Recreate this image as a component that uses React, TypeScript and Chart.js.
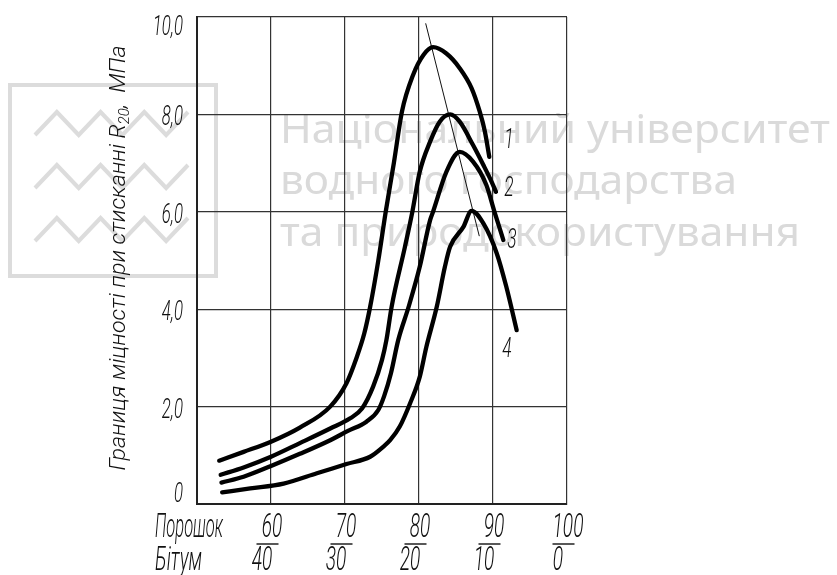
import React, { useEffect, useRef } from 'react';
import { Chart, registerables } from 'chart.js';

Chart.register(...registerables);

// ---- data ----
const curve1X = [53.0, 56.3, 60.0, 63.9, 68.0, 70.2, 71.6, 72.6, 73.4, 74.5, 75.5, 76.6, 77.7, 79.2, 80.6, 81.9, 83.7, 85.5, 87.1, 88.2, 88.9, 89.5];
const curve1Y = [0.89, 1.07, 1.28, 1.57, 2.0, 2.48, 3.02, 3.5, 4.05, 5.0, 6.0, 7.0, 8.06, 8.81, 9.22, 9.38, 9.25, 8.95, 8.54, 8.06, 7.65, 7.13];

const curve2X = [53.2, 56.3, 60.0, 63.9, 68.0, 70.7, 72.3, 73.8, 75.0, 75.6, 76.3, 78.1, 79.1, 80.1, 81.5, 82.8, 84.2, 85.5, 87.3, 88.7, 89.8, 90.4];
const curve2Y = [0.6, 0.75, 0.97, 1.25, 1.55, 1.76, 1.96, 2.41, 2.96, 3.37, 4.05, 5.28, 6.0, 6.82, 7.44, 7.85, 8.0, 7.85, 7.37, 6.96, 6.62, 6.41];

const curve3X = [53.3, 56.3, 60.0, 63.9, 68.0, 70.4, 72.9, 74.5, 75.3, 76.2, 77.2, 78.6, 80.1, 81.5, 81.9, 83.7, 85.5, 87.3, 89.1, 90.2, 91.4];
const curve3Y = [0.44, 0.56, 0.78, 1.03, 1.31, 1.5, 1.69, 1.93, 2.22, 2.68, 3.37, 4.05, 4.87, 5.83, 6.0, 6.82, 7.23, 7.03, 6.55, 6.0, 5.42];

const curve4X = [53.4, 57.2, 61.7, 66.2, 70.2, 73.4, 75.2, 76.1, 77.4, 78.8, 80.1, 81.0, 82.4, 83.5, 84.2, 86.0, 87.1, 88.7, 90.5, 91.8, 93.2];
const curve4Y = [0.24, 0.32, 0.42, 0.63, 0.82, 0.97, 1.18, 1.31, 1.59, 2.07, 2.61, 3.23, 4.05, 4.87, 5.28, 5.69, 6.02, 5.76, 5.15, 4.46, 3.57];

const guideX = [80.9, 88.15];
const guideY = [9.87, 5.5];

const curveNames = ['1', '2', '3', '4'];
const curveLabelX = [92.16, 92.16, 92.57, 91.89];
const curveLabelY = [7.52, 6.53, 5.46, 3.22];

const xTickValues = [60, 70, 80, 90, 100];
const xTickTop = ['60', '70', '80', '90', '100'];
const xTickBottom = ['40', '30', '20', '10', '0'];
const xRowLabels = ['Порошок', 'Бітум'];

const yTickValues = [0, 2, 4, 6, 8, 10];
const yTickLabels = ['0', '2,0', '4,0', '6,0', '8,0', '10,0'];

const yTitleMain = 'Границя міцності при стисканні R';
const yTitleSub = '20';
const yTitleTail = ',  МПа';

const watermarkLines = ['Національний університет', 'водного господарства', 'та природокористування'];

// ---- helpers ----
const FONT = 'Roboto';

function textW(ctx: CanvasRenderingContext2D, text: string, size: number, family = FONT, weight = '300', style = 'italic') {
  ctx.font = `${style} ${weight} ${size}px ${family}`;
  return ctx.measureText(text).width;
}

function drawText(
  ctx: CanvasRenderingContext2D,
  text: string,
  x: number,
  cy: number,
  size: number,
  align: 'left' | 'center' | 'right',
  scaleX: number,
  color = '#111',
) {
  ctx.save();
  ctx.font = `italic 300 ${size}px ${FONT}`;
  ctx.textBaseline = 'alphabetic';
  ctx.textAlign = 'left';
  ctx.fillStyle = color;
  const w = ctx.measureText(text).width * scaleX;
  const x0 = align === 'center' ? x - w / 2 : align === 'right' ? x - w : x;
  ctx.translate(x0, cy + size * 0.355);
  ctx.scale(scaleX, 1);
  ctx.fillText(text, 0, 0);
  ctx.restore();
}

const backgroundPlugin = {
  id: 'bgWatermark',
  beforeDraw(chart: any) {
    const ctx: CanvasRenderingContext2D = chart.ctx;
    ctx.save();
    ctx.fillStyle = '#ffffff';
    ctx.fillRect(0, 0, chart.width, chart.height);

    // logo
    ctx.strokeStyle = '#dcdcdc';
    ctx.lineWidth = 4;
    ctx.strokeRect(10, 85, 206, 191);
    const rows = [[112, 135], [165, 188], [218, 241]];
    ctx.lineJoin = 'miter';
    rows.forEach(([hi, lo]) => {
      ctx.beginPath();
      const n = 7;
      for (let i = 0; i <= n; i++) {
        const px = 35 + (i * (188 - 35)) / n;
        const py = i % 2 === 0 ? lo : hi;
        if (i === 0) ctx.moveTo(px, py);
        else ctx.lineTo(px, py);
      }
      ctx.stroke();
    });

    // watermark text
    ctx.fillStyle = '#dadada';
    ctx.textBaseline = 'alphabetic';
    const baselines = [143, 194, 246];
    const rights = [830, 737, 800];
    watermarkLines.forEach((line, i) => {
      ctx.font = `400 40px "Noto Sans"`;
      const w = ctx.measureText(line).width;
      const sx = (rights[i] - 280) / w;
      ctx.save();
      ctx.translate(280, baselines[i]);
      ctx.scale(sx, 1);
      ctx.fillText(line, 0, 0);
      ctx.restore();
    });
    ctx.restore();
  },
};

const labelsPlugin = {
  id: 'labels',
  afterDraw(chart: any) {
    const ctx: CanvasRenderingContext2D = chart.ctx;
    const xs = chart.scales.x;
    const ys = chart.scales.y;
    const area = chart.chartArea;

    // y tick labels
    yTickValues.forEach((v, i) => {
      let py = ys.getPixelForValue(v) + 1;
      py = Math.max(area.top + 8, Math.min(area.bottom - 12, py));
      drawText(ctx, yTickLabels[i], 183, py, 28, 'right', 0.6);
    });

    // x tick fractions
    xTickValues.forEach((v, i) => {
      const px = xs.getPixelForValue(v);
      drawText(ctx, xTickTop[i], px + 1, 525, 33, 'center', 0.58);
      ctx.save();
      ctx.strokeStyle = '#111';
      ctx.lineWidth = 1.4;
      ctx.beginPath();
      ctx.moveTo(px - 3.5 - 11, 544);
      ctx.lineTo(px - 3.5 + 11, 544);
      ctx.stroke();
      ctx.restore();
      drawText(ctx, xTickBottom[i], px - 9, 558.5, 33, 'center', 0.58);
    });

    // row labels
    const w0 = textW(ctx, xRowLabels[0], 33);
    drawText(ctx, xRowLabels[0], 155, 525, 33, 'left', 68 / w0);
    const w1 = textW(ctx, xRowLabels[1], 33);
    drawText(ctx, xRowLabels[1], 155, 558.5, 33, 'left', 47 / w1);

    // curve numbers
    curveNames.forEach((name, i) => {
      drawText(ctx, name, xs.getPixelForValue(curveLabelX[i]), ys.getPixelForValue(curveLabelY[i]), 28, 'center', 0.62);
    });

    // y axis title (rotated)
    ctx.save();
    const size = 22;
    const subSize = 14;
    const mainW = textW(ctx, yTitleMain, size);
    const subW = textW(ctx, yTitleSub, subSize);
    const tailW = textW(ctx, yTitleTail, size);
    const total = mainW + subW + tailW;
    const sx = 425 / total;
    ctx.translate(117, 258);
    ctx.rotate(-Math.PI / 2);
    ctx.scale(sx, 1);
    ctx.fillStyle = '#111';
    ctx.textBaseline = 'alphabetic';
    ctx.textAlign = 'left';
    const start = -total / 2;
    const base = size * 0.355;
    ctx.font = `italic 300 ${size}px ${FONT}`;
    ctx.fillText(yTitleMain, start, base);
    ctx.font = `italic 300 ${subSize}px ${FONT}`;
    ctx.fillText(yTitleSub, start + mainW, base + 4);
    ctx.font = `italic 300 ${size}px ${FONT}`;
    ctx.fillText(yTitleTail, start + mainW + subW, base);
    ctx.restore();
  },
};

function toPoints(xs: number[], ys: number[]) {
  return xs.map((x, i) => ({ x, y: ys[i] }));
}

export default function App() {
  const ref = useRef<HTMLCanvasElement | null>(null);

  useEffect(() => {
    if (!ref.current) return;
    const curves = [
      [curve1X, curve1Y],
      [curve2X, curve2Y],
      [curve3X, curve3Y],
      [curve4X, curve4Y],
    ];
    const datasets: any[] = curves.map(([cx, cy], i) => ({
      label: curveNames[i],
      data: toPoints(cx, cy),
      borderColor: '#000',
      borderWidth: 4.3,
      pointRadius: 0,
      fill: false,
      cubicInterpolationMode: 'monotone',
      borderCapStyle: 'round',
      borderJoinStyle: 'round',
    }));
    datasets.push({
      label: 'guide',
      data: toPoints(guideX, guideY),
      borderColor: '#111',
      borderWidth: 1,
      pointRadius: 0,
      fill: false,
      tension: 0,
    });

    const chart = new Chart(ref.current, {
      type: 'line',
      data: { datasets },
      options: {
        responsive: false,
        devicePixelRatio: 1,
        animation: false,
        layout: { padding: { left: 197, right: 270, top: 17, bottom: 71 } },
        plugins: { legend: { display: false }, tooltip: { enabled: false } },
        scales: {
          x: {
            type: 'linear',
            min: 50,
            max: 100,
            ticks: { display: false, stepSize: 10 },
            grid: { color: '#333', lineWidth: 1.2, drawTicks: false },
            border: { color: '#222', width: 2 },
          },
          y: {
            type: 'linear',
            min: 0,
            max: 10,
            ticks: { display: false, stepSize: 2 },
            grid: { color: '#333', lineWidth: 1.2, drawTicks: false },
            border: { color: '#222', width: 2 },
          },
        },
      } as any,
      plugins: [backgroundPlugin, labelsPlugin],
    });
    return () => chart.destroy();
  }, []);

  return (
    <div style={{ position: 'fixed', left: 0, top: 0, width: 837, height: 575, background: '#fff' }}>
      <canvas ref={ref} width={837} height={575} style={{ display: 'block' }} />
    </div>
  );
}
